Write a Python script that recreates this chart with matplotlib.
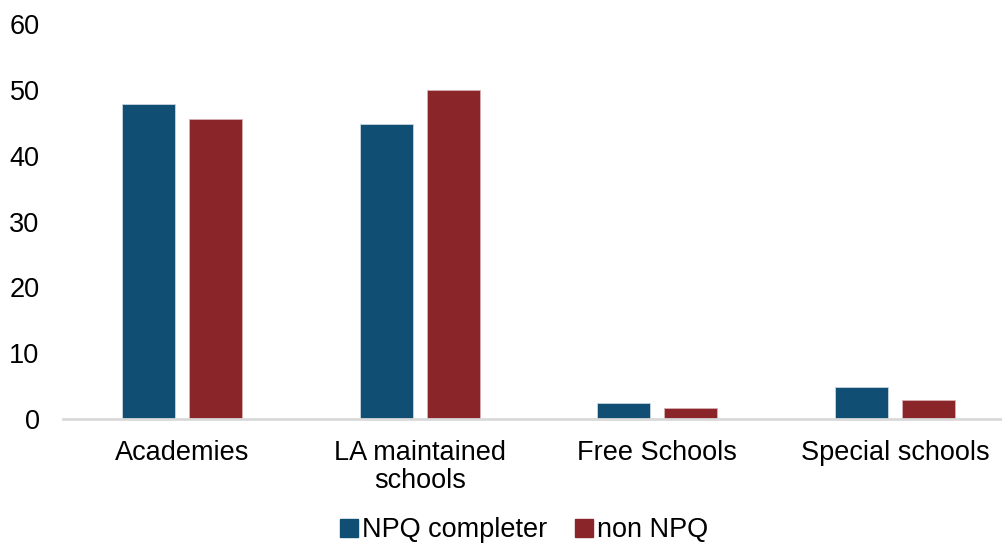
import numpy as np
import matplotlib.pyplot as plt
from matplotlib.patches import Patch

plt.rcParams['font.family'] = ['Liberation Sans', 'DejaVu Sans']

categories = ['Academies', 'LA maintained\nschools', 'Free Schools', 'Special schools']
npq_completer = [47.9, 44.8, 2.4, 4.9]
non_npq = [45.5, 50.0, 1.7, 2.9]

blue = '#114E73'
red = '#8A2529'
fs = 19.5

fig = plt.figure(figsize=(10.02, 5.46), dpi=100)
ax = fig.add_axes([0.063, 0.2326, 0.949, 0.7234])

x = np.arange(len(categories))
w = 0.223
ax.bar(x - 0.141, npq_completer, w, color=blue, edgecolor='#c9d6e0', linewidth=0.6)
ax.bar(x + 0.141, non_npq, w, color=red, edgecolor='#d9b0b2', linewidth=0.6)

ax.set_xlim(-0.5, 3.5)
ax.set_ylim(0, 60)
ax.set_yticks(range(0, 61, 10))
ax.set_xticks(x)
ax.set_xticklabels(categories, fontsize=fs, linespacing=1.12)
ax.tick_params(axis='y', length=0, pad=17, labelsize=fs)
ax.tick_params(axis='x', length=0, pad=15)

for s in ['top', 'right', 'left']:
    ax.spines[s].set_visible(False)
ax.spines['bottom'].set_color('#d9d9d9')
ax.spines['bottom'].set_linewidth(2)

handles = [Patch(color=blue, label='NPQ completer'), Patch(color=red, label='non NPQ')]
fig.legend(handles=handles, loc='lower center', bbox_to_anchor=(0.523, -0.04), ncol=2,
           frameon=False, fontsize=fs, handlelength=0.65, handleheight=0.65,
           handletextpad=0.15, columnspacing=1.05)

fig.savefig('out.png', dpi=100)
